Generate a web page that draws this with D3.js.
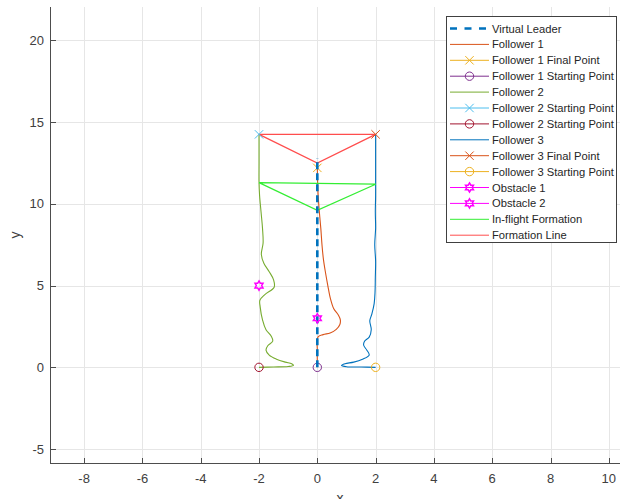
<!DOCTYPE html>
<html>
<head>
<meta charset="utf-8">
<script src="https://cdn.jsdelivr.net/npm/d3@7"></script>
<style>
body{margin:0;background:#fff}
text{font-family:"Liberation Sans",Arial,sans-serif}
</style>
</head>
<body>
<div id="chartDiv"></div>
<script>
//---trajectories [x,y]---
var leaderPath=[[0,0],[0,12.8]]
var follower1=[[0,0],[0,1.0],[0.02,1.85],[0.2,2.0],[0.44,2.1],[0.65,2.32],[0.77,2.6],[0.79,2.9],[0.72,3.2],[0.56,3.6],[0.45,4.2],[0.36,5.0],[0.28,5.8],[0.21,6.6],[0.16,7.5],[0.12,8.5],[0.07,9.5],[0.03,10.5],[0.01,11.4],[0,12.2]]
var follower2=[[-2,0],[-1.5,0.02],[-1.0,0.05],[-0.82,0.12],[-0.88,0.22],[-1.1,0.32],[-1.4,0.5],[-1.65,0.75],[-1.76,1.05],[-1.7,1.32],[-1.53,1.6],[-1.58,1.9],[-1.76,2.3],[-1.88,2.9],[-1.96,3.7],[-1.97,4.1],[-1.8,4.45],[-1.48,4.9],[-1.5,5.35],[-1.65,5.85],[-1.83,6.35],[-1.92,6.9],[-1.86,7.6],[-1.88,8.5],[-1.93,9.5],[-1.98,10.5],[-2,11.3],[-2,12.5],[-2,14.25]]
var follower3=[[2,0],[1.5,0.02],[1.0,0.04],[0.83,0.12],[0.95,0.22],[1.25,0.32],[1.55,0.5],[1.78,0.75],[1.7,1.05],[1.59,1.35],[1.62,1.6],[1.78,1.85],[1.85,2.3],[1.8,2.85],[1.87,3.25],[1.95,3.9],[1.98,4.6],[1.99,5.5],[2.0,6.5],[1.97,7.5],[2.0,8.5],[1.99,9.5],[2.0,10.5],[2.0,11.2],[2.0,12.5],[2.0,14.25]]

//---formations---
var inFlightFormation=[[-2,11.3],[2,11.2],[0,9.6],[-2,11.3]]
var finalFormation=[[-2,14.25],[2,14.25],[0,12.5],[-2,14.25]]

//---points---
var startPoints=[[0,0],[-2,0],[2,0]]
var finalPoints=[[0,12.2],[-2,14.25],[2,14.25]]
var obstacles=[[-2,5],[0,3]]

var xTicks=[-8,-6,-4,-2,0,2,4,6,8,10]
var yTicks=[-5,0,5,10,15,20]
var legendLabels=["Virtual Leader","Follower 1","Follower 1 Final Point","Follower 1 Starting Point","Follower 2","Follower 2 Starting Point","Follower 2 Starting Point","Follower 3","Follower 3 Final Point","Follower 3 Starting Point","Obstacle 1","Obstacle 2","In-flight Formation","Formation Line"]

//---matlab colours---
var C={blue:"#0072BD",orange:"#D95319",yellow:"#EDB120",purple:"#7E2F8E",green:"#77AC30",cyan:"#4DBEEE",maroon:"#A2142F",magenta:"#FF00FF",lime:"#33EE33",red:"#FF4D4D"}
var legendStyles=[
 {c:C.blue,dash:true},{c:C.orange},{c:C.yellow,m:"x"},{c:C.purple,m:"o"},{c:C.green},{c:C.cyan,m:"x"},{c:C.maroon,m:"o"},
 {c:C.blue},{c:C.orange,m:"x"},{c:C.yellow,m:"o"},{c:C.magenta,m:"h"},{c:C.magenta,m:"h"},{c:C.lime},{c:C.red}]

var W=620,H=499
var svg=d3.select("#chartDiv").append("svg").attr("width",W).attr("height",H)

var x=d3.scaleLinear().domain([-9.17,10.5]).range([50,623.4])
var y=d3.scaleLinear().domain([-5.87,22.04]).range([463.3,7])
var line=d3.line().x(d=>x(d[0])).y(d=>y(d[1])).curve(d3.curveCatmullRom.alpha(0.5))
var straight=d3.line().x(d=>x(d[0])).y(d=>y(d[1]))

//---grid---
var gridG=svg.append("g").attr("stroke","#e6e6e6").attr("stroke-width",1)
gridG.selectAll(".gx").data(xTicks).join("line")
 .attr("x1",d=>Math.round(x(d))+0.5).attr("x2",d=>Math.round(x(d))+0.5).attr("y1",y.range()[1]).attr("y2",y.range()[0])
gridG.selectAll(".gy").data(yTicks).join("line")
 .attr("y1",d=>Math.round(y(d))+0.5).attr("y2",d=>Math.round(y(d))+0.5).attr("x1",x.range()[0]).attr("x2",x.range()[1])

//---markers---
function hexPath(r){
 var p=[]
 for(var i=0;i<12;i++){
  var a=-Math.PI/2+i*Math.PI/6
  var rr=(i%2==0)?r:r/Math.sqrt(3)
  p.push([rr*Math.cos(a),rr*Math.sin(a)])
 }
 return "M"+p.map(q=>q[0].toFixed(2)+","+q[1].toFixed(2)).join("L")+"Z"
}
function drawMarker(g,type,cx,cy,color){
 if(type=="o"){
  g.append("circle").attr("cx",cx).attr("cy",cy).attr("r",4.2).attr("fill","none").attr("stroke",color).attr("stroke-width",1)
 }else if(type=="x"){
  var s=4.2
  g.append("path").attr("d","M"+(cx-s)+","+(cy-s)+"L"+(cx+s)+","+(cy+s)+"M"+(cx-s)+","+(cy+s)+"L"+(cx+s)+","+(cy-s))
   .attr("stroke",color).attr("stroke-width",1).attr("fill","none")
 }else if(type=="h"){
  g.append("path").attr("d",hexPath(4.6)).attr("transform","translate("+cx+","+cy+")")
   .attr("fill","none").attr("stroke",color).attr("stroke-width",1.5)
 }
}

var plotG=svg.append("g").attr("fill","none")
plotG.append("path").attr("d",line(follower1)).attr("stroke",C.orange).attr("stroke-width",1.1)
plotG.append("path").attr("d",line(follower2)).attr("stroke",C.green).attr("stroke-width",1.1)
plotG.append("path").attr("d",line(follower3)).attr("stroke",C.blue).attr("stroke-width",1.1)
plotG.append("path").attr("d",straight(inFlightFormation)).attr("stroke",C.lime).attr("stroke-width",1.3)
plotG.append("path").attr("d",straight(finalFormation)).attr("stroke",C.red).attr("stroke-width",1.3)

var finalColors=[C.yellow,C.cyan,C.orange]
var startColors=[C.purple,C.maroon,C.yellow]
finalPoints.forEach((p,i)=>drawMarker(plotG,"x",x(p[0]),y(p[1]),finalColors[i]))
startPoints.forEach((p,i)=>drawMarker(plotG,"o",x(p[0]),y(p[1]),startColors[i]))

plotG.append("path").attr("d",straight(leaderPath)).attr("stroke",C.blue).attr("stroke-width",2.6).attr("stroke-dasharray","7,4")
obstacles.forEach(p=>drawMarker(plotG,"h",x(p[0]),y(p[1]),C.magenta))

//---axes---
var axG=svg.append("g").attr("stroke","#4d4d4d").attr("stroke-width",1)
axG.append("line").attr("x1",50.5).attr("x2",50.5).attr("y1",y.range()[1]).attr("y2",463.8)
axG.append("line").attr("x1",50).attr("x2",W).attr("y1",463.5).attr("y2",463.5)
axG.selectAll(".tx").data(xTicks).join("line")
 .attr("x1",d=>Math.round(x(d))+0.5).attr("x2",d=>Math.round(x(d))+0.5).attr("y1",463).attr("y2",458)
axG.selectAll(".ty").data(yTicks).join("line")
 .attr("y1",d=>Math.round(y(d))+0.5).attr("y2",d=>Math.round(y(d))+0.5).attr("x1",51).attr("x2",56)

svg.append("g").selectAll("text").data(xTicks).join("text")
 .attr("x",d=>x(d)).attr("y",483).attr("text-anchor","middle").attr("font-size",13).attr("fill","#404040").text(d=>d)
svg.append("g").selectAll("text").data(yTicks).join("text")
 .attr("x",44).attr("y",d=>y(d)+4.5).attr("text-anchor","end").attr("font-size",13).attr("fill","#404040").text(d=>d)

//---axis labels (x label sits at the bottom edge, as in the original crop)---
svg.append("text").attr("x",340).attr("y",503).attr("text-anchor","middle").attr("font-size",14).attr("fill","#404040").text("x")
svg.append("text").attr("transform","translate(20,235) rotate(-90)").attr("text-anchor","middle").attr("font-size",14).attr("fill","#404040").text("y")

//---legend---
var legG=svg.append("g")
legG.append("rect").attr("x",446.5).attr("y",16.5).attr("width",170).attr("height",226).attr("fill","#fff").attr("stroke","#404040").attr("stroke-width",1)
legendLabels.forEach(function(lab,i){
 var ly=28.5+i*15.9, st=legendStyles[i]
 legG.append("line").attr("x1",450).attr("x2",489).attr("y1",ly).attr("y2",ly).attr("stroke",st.c)
  .attr("stroke-width",st.dash?2.6:1).attr("stroke-dasharray",st.dash?"7,7.5":null)
 if(st.m) drawMarker(legG,st.m,469.5,ly,st.c)
 legG.append("text").attr("x",492).attr("y",ly+4).attr("font-size",11.2).attr("fill","#262626").text(lab)
})
</script>
</body>
</html>
